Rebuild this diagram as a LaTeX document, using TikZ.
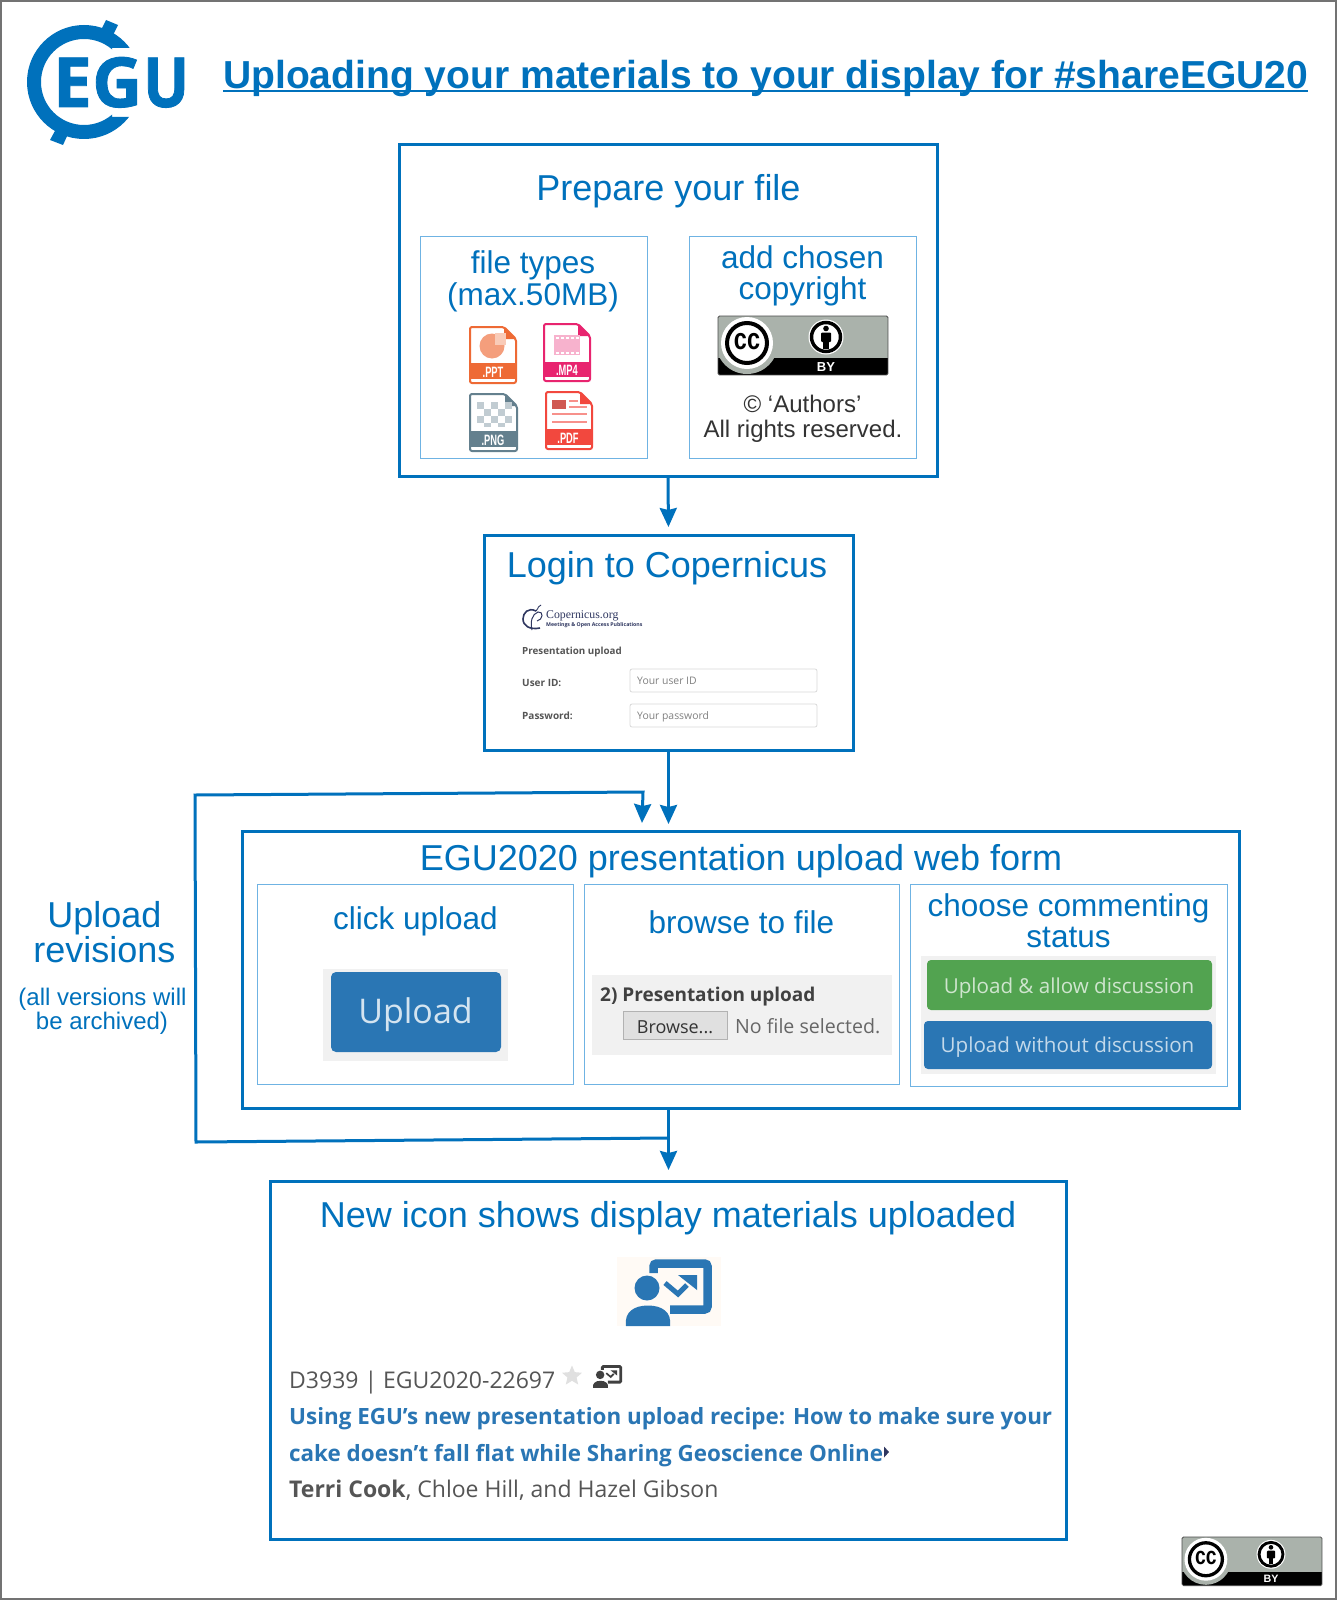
\documentclass[tikz,border=0pt]{standalone}
\usepackage{fontspec}
\setmainfont{Liberation Sans}
\newfontfamily\os{Open Sans}
\newfontfamily\lserif{Liberation Serif}
\usetikzlibrary{arrows.meta,shapes.geometric,calc}
\definecolor{egublue}{HTML}{0071BC}
\definecolor{lightline}{HTML}{6FB3E3}
\definecolor{btnblue}{HTML}{2A76B4}
\definecolor{btngreen}{HTML}{52A350}
\definecolor{panelgray}{HTML}{F1F1F1}
\definecolor{ccgray}{HTML}{AAB2AB}
\definecolor{bodytext}{HTML}{555555}
\definecolor{copdark}{HTML}{2F3760}
\newcommand\fs[1]{\fontsize{#1}{#1}\selectfont}
\newcommand\bx[6]{\pgfmathsetmacro\wA{#5-#3}\pgfmathsetmacro\hA{#6-#4}\node[#2,anchor=north west,minimum width=\wA pt,minimum height=\hA pt,inner sep=0pt,outer sep=0pt] (#1) at (#3,#4) {};}
\tikzset{
 outerbox/.style={draw=egublue,line width=3pt},
 innerbox/.style={draw=lightline,line width=1pt,xshift=.5pt,yshift=-.5pt},
 head/.style={inner sep=0pt,anchor=base,text=egublue},
 txt/.style={inner sep=0pt,anchor=base},
 txtw/.style={inner sep=0pt,anchor=base west},
 flow/.style={draw=egublue,line width=3pt,-{Stealth[length=19pt,width=17pt,inset=2pt]}},
 filebody/.style={fill=white,line width=2pt,rounded corners=2pt},
 filelabel/.style={inner sep=0pt,text=white,font=\bfseries\fs{15}},
 logoletter/.style={inner sep=0pt,anchor=base west,text=egublue,font=\os\bfseries\fs{69}\addfontfeature{FakeBold=1.2}},
}
% badge: x, y, scale, prefix
\newcommand\ccbadge[4]{%
\begin{scope}[shift={(#1,#2)},scale=#3]
 \begin{scope}
 \clip[rounded corners=1.5pt] (0,0) rectangle (170,59);
 \fill[ccgray] (0,0) rectangle (170,59);
 \fill[black] (0,42) rectangle (170,59);
 \fill[ccgray] (29,27) circle [radius=31pt];
 \end{scope}
 \draw[black!70,line width=.8pt,rounded corners=1.5pt] (0,0) rectangle (170,59);
 \fill[white] (29,27) circle [radius=26pt];
 \draw[black,fill=white,line width=#3*4pt] (29,27) circle [radius=20pt];
 \node[transform shape,inner sep=0pt,font=\bfseries\fs{30}] (#4cc) at (29,25.5) {\scalebox{.78}[1]{cc}};
 \fill[white] (108,21) circle [radius=17.5pt];
 \draw[black,fill=white,line width=#3*3.5pt] (108,21) circle [radius=14.5pt];
 \fill[black] (108,12.5) circle [radius=2.8pt];
 \fill[black,rounded corners=1pt] (103,16.5) rectangle (113,26);
 \fill[black] (105,24) rectangle (111,33);
 \node[transform shape,inner sep=0pt,text=white,font=\bfseries\fs{13}] (#4by) at (108,51) {BY};
\end{scope}}
% presenter icon: x, y, scale, colour
\newcommand\presicon[4]{%
\begin{scope}[shift={(#1,#2)},scale=#3]
 \draw[#4,line width=#3*8.5pt,rounded corners=#3*3pt] (27.5,14)--(27.5,4.5)--(81.5,4.5)--(81.5,50.5)--(44,50.5);
 \draw[#4,line width=#3*5pt] (39,24)--(52,35)--(61,26);
 \fill[#4] (52,16)--(71,16)--(71,31)--cycle;
 \fill[#4] (21,29) circle [radius=12.5pt];
 \fill[#4] (0,67) .. controls (-2,53) and (8,46.5) .. (22,46.5) .. controls (36,46.5) and (46,53) .. (44,67) -- cycle;
\end{scope}}
\begin{document}
\begin{tikzpicture}[x=1pt,y=-1pt]
\useasboundingbox (0,0) rectangle (1337,1600);
\fill[white] (0,0) rectangle (1337,1600);
\draw[black!55,line width=2pt] (1,1) rectangle (1336,1599);

% ---- logo
\begin{scope}
 \clip (0,0)--(160,0)--(160,48)--(112,48)--(112,117)--(160,117)--(160,170)--(0,170)--cycle;
 \fill[egublue,even odd rule] (84,82) circle [radius=57pt] (84,82) circle [radius=43pt];
\end{scope}
\fill[egublue] (106,20)--(118,25)--(112,37)--(100,32)--cycle;
\fill[egublue] (50,140)--(63,145)--(68,134)--(56,129)--cycle;
\node[logoletter] (logoE) at (53,107) {E};
\node[logoletter] (logoG) at (92,107) {G};
\node[logoletter] (logoU) at (143,107) {\scalebox{.88}[1]{U}};

% ---- title
\node[txtw,text=egublue,font=\bfseries\fs{39.05}] (title) at (223,88.5) {Uploading your materials to your display for \#shareEGU20};
\coordinate (ulA) at (223,91.5);
\coordinate (ulB) at (1308,91.5);
\draw[egublue,line width=2pt] (ulA) -- (ulB);

% ---- prepare
\bx{prep}{outerbox}{399}{144}{937}{476}
\node[head,font=\fs{36}] (prepT) at (668.5,200) {Prepare your file};
\bx{ftypes}{innerbox}{420}{236}{647}{458}
\bx{copyr}{innerbox}{689}{236}{916}{458}
\node[head,font=\fs{31.5}] (ft1) at (533,273) {file types};
\node[head,font=\fs{31.5}] (ft2) at (533,305) {(max.50MB)};
\node[head,font=\fs{31.5}] (cp1) at (802.5,268) {add chosen};
\node[head,font=\fs{31.5}] (cp2) at (802.5,299) {copyright};
\ccbadge{718}{316}{1}{a}
\node[txt,text=black!80,font=\fs{24}] (au1) at (802.5,412) {© ‘Authors’};
\node[txt,text=black!80,font=\fs{24}] (au2) at (803,437) {All rights reserved.};

% file icons
\definecolor{ficppt}{HTML}{EE6A35}
\definecolor{ficmp}{HTML}{E8246F}
\definecolor{ficpng}{HTML}{64808E}
\definecolor{ficpdf}{HTML}{F2483E}
% PPT
\draw[filebody,draw=ficppt] (470,327)--(504,327)--(516,339)--(516,383)--(470,383)--cycle;
\fill[ficppt] (504,327)--(516,339)--(504,339)--cycle;
\fill[ficppt] (470,363) rectangle (516,379);
\fill[ficppt!65] (492,346) circle [radius=12.5pt];
\fill[ficppt!35] (495,333) rectangle (506,345);
\node[filelabel] (fPPT) at (493,372) {\scalebox{.62}[1]{.PPT}};
% MP4
\draw[filebody,draw=ficmp] (544,324)--(578,324)--(590,336)--(590,381)--(544,381)--cycle;
\fill[ficmp] (578,324)--(590,336)--(578,336)--cycle;
\fill[ficmp] (544,362) rectangle (590,377);
\fill[ficmp!35] (554,335) rectangle (580,355);
\foreach \i in {0,...,4}{\fill[white] (556+\i*5,336.5) rectangle (558.5+\i*5,338.5);\fill[white] (556+\i*5,351.5) rectangle (558.5+\i*5,353.5);}
\node[filelabel] (fMP) at (567,370) {\scalebox{.62}[1]{.MP4}};
% PNG
\draw[filebody,draw=ficpng] (470,394)--(505,394)--(517,406)--(517,451)--(470,451)--cycle;
\fill[ficpng] (505,394)--(517,406)--(505,406)--cycle;
\fill[ficpng] (470,431) rectangle (517,447);
\foreach \ra in {0,1,2}{\foreach \ca in {0,...,4}{\pgfmathtruncatemacro\parit{mod(\ra+\ca,2)}\ifnum\parit=0 \fill[ficpng!40] (477+\ca*7,402+\ra*7) rectangle (484+\ca*7,409+\ra*7);\fi}}
\foreach \ca in {1,3}{\fill[ficpng!40] (477+\ca*7,423) rectangle (484+\ca*7,427);}
\node[filelabel] (fPNG) at (493,440) {\scalebox{.62}[1]{.PNG}};
% PDF
\draw[filebody,draw=ficpdf] (546,392)--(580,392)--(592,404)--(592,449)--(546,449)--cycle;
\fill[ficpdf] (580,392)--(592,404)--(580,404)--cycle;
\fill[ficpdf] (546,429) rectangle (592,445);
\fill[ficpdf!70!gray] (552,400) rectangle (566,409);
\fill[ficpdf!60] (569,400) rectangle (578,402);
\fill[ficpdf!60] (569,406) rectangle (587,408);
\fill[ficpdf!60] (552,413) rectangle (587,415);
\fill[ficpdf!60] (552,421) rectangle (587,423);
\node[filelabel] (fPDF) at (568,438) {\scalebox{.62}[1]{.PDF}};

% ---- login
\bx{login}{outerbox}{484}{535}{853}{750}
\node[head,font=\fs{36}] (loginT) at (667,577) {Login to Copernicus};
\begin{scope}[copdark]
 \draw[line width=1.6pt] (536,611) .. controls (528,607) and (523,613) .. (523,619) .. controls (523,626) and (530,630) .. (540,628);
 \draw[line width=1pt] (532,630) .. controls (530,622) and (532,614) .. (538,612) .. controls (544,611) and (543,620) .. (537,621);
 \draw[line width=.9pt] (536,611) .. controls (539,608) and (538,605) .. (541,605);
\end{scope}
\node[txtw,text=copdark,font=\lserif\fs{11.8}] (copT) at (546,618) {Copernicus.org};
\node[txtw,text=copdark,font=\os\bfseries\fs{5.2}] (copS) at (546,626) {Meetings \& Open Access Publications};
\node[txtw,text=bodytext,font=\os\bfseries\fs{9.8}] (presup) at (522,654) {Presentation upload};
\node[txtw,text=bodytext,font=\os\bfseries\fs{10}] (uid) at (522,686) {User ID:};
\node[txtw,text=bodytext,font=\os\bfseries\fs{10}] (pwd) at (522,719) {Password:};
\bx{f1}{draw=black!15,line width=.8pt,rounded corners=2pt}{630}{669}{817}{692}
\bx{f2}{draw=black!15,line width=.8pt,rounded corners=2pt}{630}{704}{817}{727}
\node[txtw,text=black!50,font=\os\fs{10.4}] (f1t) at (637,684) {Your user ID};
\node[txtw,text=black!50,font=\os\fs{10.4}] (f2t) at (637,719) {Your password};

% ---- form
\bx{form}{outerbox}{242}{831}{1239}{1108}
\node[head,font=\fs{36}] (formT) at (741,870) {EGU2020 presentation upload web form};
\bx{clk}{innerbox}{257}{884}{573}{1084}
\bx{brw}{innerbox}{584}{884}{899}{1084}
\bx{cmt}{innerbox}{910}{884}{1227}{1086}
\node[head,font=\fs{31.5}] (clkT) at (415.5,929) {click upload};
\node[head,font=\fs{31.5}] (brwT) at (741.5,933) {browse to file};
\node[head,font=\fs{31.5}] (cm1) at (1068.5,916) {choose commenting};
\node[head,font=\fs{31.5}] (cm2) at (1068.5,947) {status};
\bx{clkbg}{fill=panelgray}{323}{969}{508}{1061}
\bx{clkbtn}{fill=btnblue,rounded corners=5pt}{331}{972}{501}{1052}
\node[txt,text=white!80!btnblue,font=\os\fs{34}] (clkbtnT) at (415.5,1023) {Upload};
\bx{brwbg}{fill=panelgray}{592}{975}{892}{1055}
\node[txtw,text=black!75,font=\os\bfseries\fs{19}] (brw2) at (600,1001) {2) Presentation upload};
\bx{brwbtn}{fill=black!12,draw=black!30,line width=1pt}{623}{1011}{727}{1039}
\node[txt,text=black!80,font=\os\fs{18}] (brwbtnT) at (675,1033) {Browse...};
\node[txtw,text=black!60,font=\os\fs{19.6}] (nofile) at (735,1033) {No file selected.};
\bx{cmtbg}{fill=panelgray}{921}{956}{1216}{1074}
\bx{grn}{fill=btngreen,rounded corners=4pt}{927}{960}{1212}{1010}
\bx{blu}{fill=btnblue,rounded corners=4pt}{924}{1021}{1212}{1069}
\node[txt,text=white!72!btngreen,font=\os\fs{20.6}] (grnT) at (1069,993) {Upload \& allow discussion};
\node[txt,text=white!72!btnblue,font=\os\fs{20.6}] (bluT) at (1067.5,1052) {Upload without discussion};

% ---- upload revisions
\node[head,font=\fs{36}] (ur1) at (104.5,927) {Upload};
\node[head,font=\fs{36}] (ur2) at (104.5,962.5) {revisions};
\node[head,font=\fs{24}] (ur3) at (102.5,1005) {(all versions will};
\node[head,font=\fs{24}] (ur4) at (102,1029) {be archived)};

% ---- new icon
\bx{newi}{outerbox}{270}{1181}{1066}{1539}
\node[head,font=\fs{36}] (newT) at (668,1227) {New icon shows display materials uploaded};
\bx{icbg}{fill=orange!4!white}{617}{1257}{721}{1326}
\presicon{626}{1259}{1}{btnblue}
\presicon{593}{1365}{.34}{black!75}
\node[txtw,text=bodytext,font=\os\fs{23}] (l1) at (289,1388) {D3939 | EGU2020-22697};
\node[star,star points=5,star point ratio=2.2,fill=black!12,inner sep=0pt,minimum size=21pt] (star) at (572,1376) {};
\node[txtw,text=btnblue,font=\os\bfseries\fs{22.4}] (l2) at (289,1424) {Using EGU’s new presentation upload recipe: How to make sure your};
\node[txtw,text=btnblue,font=\os\bfseries\fs{22.4}] (l3) at (289,1461) {cake doesn’t fall flat while Sharing Geoscience Online};
\fill[copdark] (884,1446.5)--(884,1457.5)--(889,1452)--cycle;
\node[txtw,text=bodytext,font=\os\fs{23}] (l4) at (289,1497.5) {\textbf{Terri Cook}, Chloe Hill, and Hazel Gibson};

% ---- bottom badge
\ccbadge{1182}{1537}{.824}{b}

% ---- connectors
\draw[flow,shorten >=8pt] (prep.south) -- (login.north);
\draw[flow] (login.south) -- ($(login.south |- form.north)+(0,-7)$);
\draw[flow] (login.south |- form.south) -- ($(login.south |- newi.north)+(0,-11)$);
\coordinate (fbA) at (668,1138);
\coordinate (fbB) at (196,1142);
\coordinate (fbC) at (195,795);
\coordinate (fbD) at (643,792);
\coordinate (fbE) at (642,823);
\draw[flow] (fbA) -- (fbB) -- (fbC) -- (fbD) -- (fbE);
\end{tikzpicture}
\end{document}
